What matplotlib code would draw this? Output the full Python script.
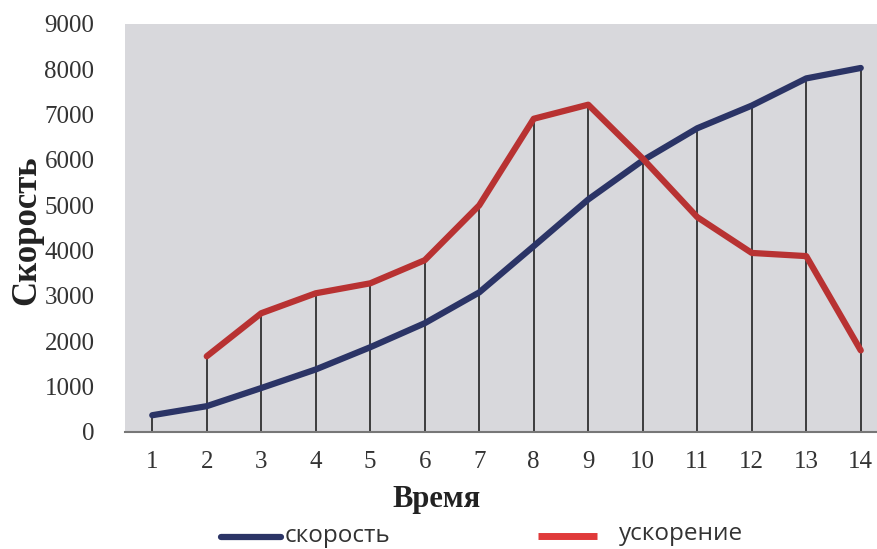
import matplotlib
matplotlib.use("Agg")
import matplotlib.pyplot as plt
from matplotlib.lines import Line2D

time = list(range(1, 15))
speed = [370, 570, 970, 1380, 1870, 2400, 3080, 4100, 5130, 5990, 6700, 7200, 7800, 8030]
accel_time = list(range(2, 15))
accel = [1670, 2620, 3060, 3280, 3790, 5000, 6910, 7220, 6030, 4740, 3950, 3880, 1800]
yticks = [0, 1000, 2000, 3000, 4000, 5000, 6000, 7000, 8000, 9000]

navy = "#2b3466"
red = "#b83232"
W, H = 878, 549

fig = plt.figure(figsize=(W / 100, H / 100), dpi=100)
left, right, top, bottom = 125, 888, 24, 432
ax = fig.add_axes([left / W, 1 - bottom / H, (right - left) / W, (bottom - top) / H])
ax.set_facecolor("#d8d8dc")
ax.set_xlim(0.5, 14.5)
ax.set_ylim(0, 9000)

# drop lines from each point down to the axis
acc_map = dict(zip(accel_time, accel))
for t, s in zip(time, speed):
    topv = max(s, acc_map.get(t, 0))
    ax.vlines(t, 0, topv, color="#222222", lw=1.2, zorder=2)

ax.plot(time, speed, color=navy, lw=4.5, solid_capstyle="round", solid_joinstyle="round", zorder=3)
ax.plot(accel_time, accel, color=red, lw=4.5, solid_capstyle="round", solid_joinstyle="round", zorder=3)

for s in ["top", "right", "left"]:
    ax.spines[s].set_visible(False)
ax.spines["bottom"].set_color("#777777")
ax.spines["bottom"].set_linewidth(1.5)

ax.set_xticks(time)
ax.set_xticklabels([str(t) for t in time])
ax.set_yticks(yticks)
ax.set_yticklabels([str(v) for v in yticks])
ax.tick_params(length=0, labelsize=18, colors="#333333")
ax.tick_params(axis="x", pad=14)
ax.tick_params(axis="y", pad=22)
for lab in ax.get_xticklabels() + ax.get_yticklabels():
    lab.set_fontfamily("Liberation Serif")

fig.text(27 / W, 1 - 230 / H, "Скорость", rotation=90, ha="center", va="center",
         fontsize=25, fontweight="bold", family="Liberation Serif", color="#222222")
fig.text(437 / W, 1 - 499 / H, "Время", ha="center", va="center",
         fontsize=22, fontweight="bold", family="Liberation Serif", color="#222222")

# legend
fig.add_artist(Line2D([221 / W, 281 / W], [1 - 537 / H] * 2, color=navy, lw=4.5,
                      solid_capstyle="round"))
fig.text(285 / W, 1 - 542 / H, "скорость", ha="left", va="baseline", fontsize=17.5,
         family="Open Sans", color="#333333")
fig.add_artist(Line2D([538 / W, 597 / W], [1 - 536 / H] * 2, color="#e03a3a", lw=5,
                      solid_capstyle="butt"))
fig.text(619 / W, 1 - 540 / H, "ускорение", ha="left", va="baseline", fontsize=17.5,
         family="Open Sans", color="#333333")

fig.savefig("out.png", dpi=100, facecolor="white")
